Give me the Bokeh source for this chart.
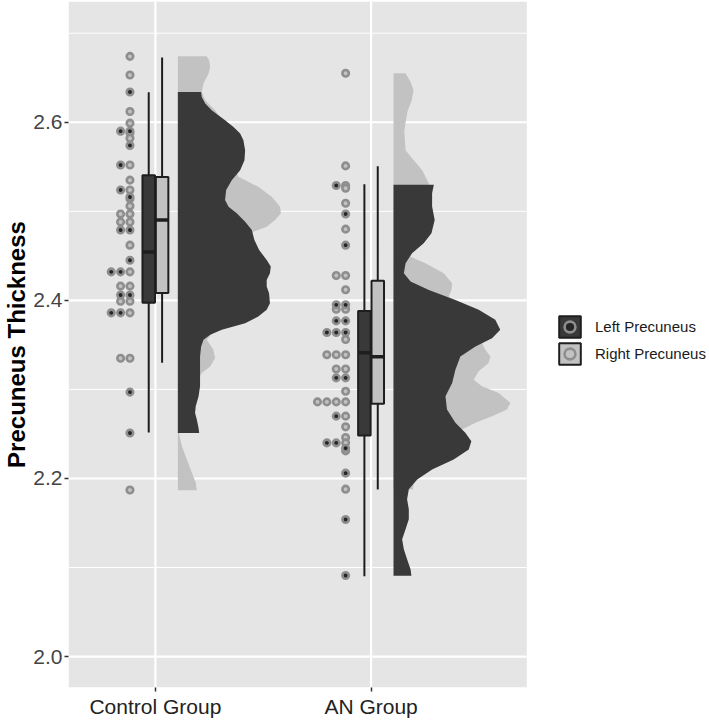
import numpy as np
from bokeh.plotting import figure
from bokeh.models import (Range1d, FixedTicker, Legend, LegendItem,
                          ColumnDataSource, PrintfTickFormatter)
from bokeh.embed import file_html
from bokeh.resources import INLINE

# ---------------- data ----------------
groups = ["Control Group", "AN Group"]
series = ["Left Precuneus", "Right Precuneus"]
group_pos = [1, 2]

y_ticks = [2.0, 2.2, 2.4, 2.6]
y_minor = [2.1, 2.3, 2.5, 2.7]

# individual observations
ctrl_left = [2.634, 2.590, 2.590, 2.574, 2.552, 2.524, 2.516, 2.479, 2.479,
             2.445, 2.432, 2.432, 2.406, 2.406, 2.386, 2.386, 2.297, 2.251]
ctrl_right = [2.674, 2.653, 2.612, 2.599, 2.588, 2.582, 2.552, 2.535, 2.524,
              2.514, 2.506, 2.497, 2.497, 2.488, 2.488, 2.462, 2.432, 2.416,
              2.416, 2.399, 2.399, 2.386, 2.335, 2.335, 2.187]
an_left = [2.529, 2.497, 2.462, 2.395, 2.395, 2.377, 2.377, 2.364, 2.364,
           2.364, 2.313, 2.313, 2.270, 2.240, 2.240, 2.234, 2.206, 2.154, 2.091]
an_right = [2.655, 2.551, 2.529, 2.526, 2.509, 2.480, 2.428, 2.428, 2.412,
            2.390, 2.390, 2.356, 2.339, 2.339, 2.339, 2.323, 2.323, 2.298,
            2.286, 2.286, 2.286, 2.286, 2.270, 2.258, 2.246, 2.240, 2.231, 2.188]

# boxplot statistics: lower whisker, q1, median, q3, upper whisker
ctrl_left_box = [2.2515, 2.3972, 2.4543, 2.5406, 2.6336]
ctrl_right_box = [2.3300, 2.4084, 2.4902, 2.5384, 2.6728]
an_left_box = [2.0902, 2.2482, 2.3412, 2.3882, 2.5305]
an_right_box = [2.1877, 2.2840, 2.3367, 2.4219, 2.5507]

# half-violin density profiles (value, width)
ctrl_right_vv = [2.674, 2.6695, 2.662, 2.6546, 2.6434, 2.634, 2.6246, 2.6134, 2.6022,
                 2.5798, 2.5573, 2.5387, 2.5275, 2.5163, 2.5051, 2.4977, 2.4902, 2.4827,
                 2.4771, 2.4603, 2.4305, 2.3931, 2.3707, 2.3557, 2.3445, 2.3352, 2.3258,
                 2.3184, 2.2997, 2.2736, 2.2493, 2.2362, 2.2213, 2.2064, 2.1952, 2.1869]
ctrl_right_vw = [0.134, 0.145, 0.150, 0.142, 0.119, 0.111, 0.127, 0.173, 0.204,
                 0.242, 0.250, 0.281, 0.373, 0.435, 0.474, 0.478, 0.451, 0.412,
                 0.350, 0.304, 0.312, 0.281, 0.188, 0.134, 0.165, 0.173, 0.150,
                 0.111, 0.065, 0.034, 0.006, 0.019, 0.042, 0.065, 0.083, 0.088]
ctrl_left_vv = [2.634, 2.6284, 2.621, 2.6134, 2.6022, 2.5947, 2.5873, 2.5798, 2.5686,
                2.5574, 2.5462, 2.535, 2.5238, 2.5126, 2.5051, 2.4977, 2.4883, 2.479,
                2.4678, 2.4566, 2.4454, 2.4379, 2.4305, 2.423, 2.4155, 2.4081, 2.3969,
                2.3894, 2.3819, 2.3744, 2.367, 2.3614, 2.3557, 2.3483, 2.3371, 2.3035,
                2.2922, 2.281, 2.2736, 2.2661, 2.2568, 2.2512]
ctrl_left_vw = [0.108, 0.111, 0.127, 0.157, 0.219, 0.258, 0.289, 0.304, 0.312,
                0.309, 0.289, 0.250, 0.224, 0.219, 0.235, 0.273, 0.312, 0.343,
                0.355, 0.377, 0.412, 0.431, 0.427, 0.412, 0.412, 0.423, 0.427,
                0.412, 0.373, 0.312, 0.204, 0.150, 0.119, 0.108, 0.103, 0.103,
                0.096, 0.083, 0.080, 0.088, 0.096, 0.099]
an_right_vv = [2.655, 2.645, 2.636, 2.625, 2.612, 2.600, 2.590, 2.5686, 2.5574,
               2.5462, 2.5313, 2.4939, 2.464, 2.4491, 2.4416, 2.4304, 2.4192, 2.4117,
               2.4043, 2.3819, 2.3595, 2.3446, 2.3371, 2.3296, 2.3203, 2.311, 2.3035,
               2.2961, 2.2849, 2.2774, 2.2699, 2.2625, 2.255, 2.2326, 2.2102, 2.1953, 2.1877]
an_right_vw = [0.056, 0.080, 0.093, 0.085, 0.065, 0.056, 0.050, 0.056, 0.094,
               0.133, 0.164, 0.133, 0.086, 0.079, 0.148, 0.233, 0.272, 0.269,
               0.256, 0.302, 0.395, 0.426, 0.449, 0.441, 0.395, 0.372, 0.410,
               0.488, 0.542, 0.526, 0.457, 0.380, 0.318, 0.241, 0.133, 0.094, 0.090]
an_left_vv = [2.5299, 2.5202, 2.5053, 2.4903, 2.4753, 2.4641, 2.453, 2.4416, 2.4304,
              2.4211, 2.4117, 2.4005, 2.3894, 2.3782, 2.367, 2.3576, 2.3483, 2.3371,
              2.3221, 2.3072, 2.2923, 2.2774, 2.2625, 2.2513, 2.2419, 2.2326, 2.2214,
              2.2102, 2.199, 2.1878, 2.1766, 2.1654, 2.1542, 2.143, 2.1318, 2.1206,
              2.1094, 2.0982, 2.0908]
an_left_vw = [0.187, 0.179, 0.179, 0.191, 0.176, 0.140, 0.086, 0.056, 0.048,
              0.079, 0.164, 0.287, 0.395, 0.472, 0.495, 0.457, 0.380, 0.310,
              0.287, 0.272, 0.241, 0.248, 0.287, 0.333, 0.361, 0.349, 0.279,
              0.179, 0.110, 0.071, 0.063, 0.071, 0.071, 0.056, 0.040, 0.048,
              0.063, 0.079, 0.083]

# ---------------- styling / layout ----------------
DARK = "#393939"
LIGHT = "#c2c2c2"
RING = "#8e8e8e"
PANEL = "#e5e5e5"
POINT_OFFSET = -0.118
POINT_STEP = 0.0435
BOX_DODGE = 0.031
BOX_HALF = 0.029
VIOLIN_NUDGE = 0.104
FONT = "Liberation Sans"

X_LO, X_HI = 0.597, 2.722          # panel extent (x)
Y_LO, Y_HI = 1.9653, 2.7356        # panel extent (y)
LEFT_BORDER = 67
PX_PER_X = 216.0                   # so the frame can also host the legend
X_VIEW_HI = X_LO + (709 - LEFT_BORDER) / PX_PER_X

p = figure(width=709, height=720,
           x_range=Range1d(X_LO, X_VIEW_HI), y_range=Range1d(Y_LO, Y_HI),
           output_backend="svg", toolbar_location=None,
           min_border_left=LEFT_BORDER, min_border_right=0,
           min_border_top=1, min_border_bottom=32,
           background_fill_color="white", border_fill_color="white",
           outline_line_color=None)
p.grid.visible = False

# panel background and grid (restricted to the panel, legend sits outside)
p.quad(left=[X_LO], right=[X_HI], bottom=[Y_LO], top=[Y_HI],
       fill_color=PANEL, line_color=None)
p.segment(x0=[X_LO] * len(y_minor), x1=[X_HI] * len(y_minor), y0=y_minor, y1=y_minor,
          line_color="white", line_width=1)
p.segment(x0=[X_LO] * len(y_ticks), x1=[X_HI] * len(y_ticks), y0=y_ticks, y1=y_ticks,
          line_color="white", line_width=2.2)
p.segment(x0=group_pos, x1=group_pos, y0=[Y_LO] * 2, y1=[Y_HI] * 2,
          line_color="white", line_width=2.2)

# axes
p.xaxis.ticker = FixedTicker(ticks=group_pos)
p.xaxis.major_label_overrides = {g: name for g, name in zip(group_pos, groups)}
p.yaxis.ticker = FixedTicker(ticks=y_ticks, minor_ticks=y_minor)
p.yaxis.formatter = PrintfTickFormatter(format="%.1f")
for ax in (p.xaxis[0], p.yaxis[0]):
    ax.axis_line_color = None
    ax.major_tick_in = 0
    ax.major_tick_out = 4
    ax.major_tick_line_color = "#333333"
    ax.major_tick_line_width = 1.5
    ax.minor_tick_line_color = None
    ax.major_label_text_font = FONT
    ax.major_label_text_font_size = "21px"
    ax.major_label_text_color = "#222222"
p.yaxis.major_label_text_color = "#444444"
p.xaxis.major_label_standoff = 3
p.yaxis.major_label_standoff = 2
p.yaxis.axis_label = "Precuneus Thickness"
p.yaxis.axis_label_text_font = FONT
p.yaxis.axis_label_text_font_size = "24px"
p.yaxis.axis_label_text_font_style = "bold"
p.yaxis.axis_label_text_color = "black"
p.yaxis.axis_label_text_line_height = 0.8
p.yaxis.axis_label_standoff = 0

# ---------------- half violins ----------------
def half_violin(center, vv, vw, color):
    x0 = center + VIOLIN_NUDGE
    xs = [x0] + [x0 + w for w in vw] + [x0]
    ys = [vv[0]] + list(vv) + [vv[-1]]
    p.patch(xs, ys, fill_color=color, line_color=None)

half_violin(group_pos[0], ctrl_right_vv, ctrl_right_vw, LIGHT)
half_violin(group_pos[0], ctrl_left_vv, ctrl_left_vw, DARK)
half_violin(group_pos[1], an_right_vv, an_right_vw, LIGHT)
half_violin(group_pos[1], an_left_vv, an_left_vw, DARK)

# ---------------- boxplots ----------------
def box_source(stats_list, dodge):
    d = dict(x=[], left=[], right=[], lo=[], q1=[], med=[], q3=[], hi=[])
    for g, st in zip(group_pos, stats_list):
        cx = g + dodge
        d["x"].append(cx)
        d["left"].append(cx - BOX_HALF)
        d["right"].append(cx + BOX_HALF)
        d["lo"].append(st[0]); d["q1"].append(st[1]); d["med"].append(st[2])
        d["q3"].append(st[3]); d["hi"].append(st[4])
    return ColumnDataSource(d)

src_l = box_source([ctrl_left_box, an_left_box], -BOX_DODGE)
src_r = box_source([ctrl_right_box, an_right_box], BOX_DODGE)
box_renderers = {}
for name, src, col in ((series[0], src_l, DARK), (series[1], src_r, LIGHT)):
    p.segment(x0="x", y0="q3", x1="x", y1="hi", source=src,
              line_color="#1e1e1e", line_width=2)
    p.segment(x0="x", y0="lo", x1="x", y1="q1", source=src,
              line_color="#1e1e1e", line_width=2)
    box_renderers[name] = p.quad(left="left", right="right", bottom="q1", top="q3",
                                 source=src, fill_color=col, line_color="#1e1e1e",
                                 line_width=2)
    p.segment(x0="left", y0="med", x1="right", y1="med", source=src,
              line_color="#1e1e1e", line_width=3.5)

# ---------------- stacked points ----------------
def stacked(center, right_vals, left_vals):
    counts = {}
    out = []
    for vals in (right_vals, left_vals):
        xs = []
        for v in vals:
            k = round(v, 3)
            c = counts.get(k, 0)
            counts[k] = c + 1
            xs.append(center + POINT_OFFSET - POINT_STEP * c)
        out.append(xs)
    return out

cr_x, cl_x = stacked(group_pos[0], ctrl_right, ctrl_left)
ar_x, al_x = stacked(group_pos[1], an_right, an_left)

pt_r = p.scatter(cr_x + ar_x, ctrl_right + an_right, size=6.5, marker="circle",
                 fill_color=LIGHT, line_color=RING, line_width=2.6)
pt_l = p.scatter(cl_x + al_x, ctrl_left + an_left, size=6.5, marker="circle",
                 fill_color="#262626", line_color=RING, line_width=2.6)

# ---------------- legend ----------------
legend = Legend(items=[
    LegendItem(label=series[0], renderers=[box_renderers[series[0]], pt_l]),
    LegendItem(label=series[1], renderers=[box_renderers[series[1]], pt_r]),
], location=(488, 320))
legend.glyph_width = 27
legend.glyph_height = 27
legend.spacing = 0
legend.padding = 0
legend.margin = 0
legend.label_standoff = 12
legend.label_text_font = FONT
legend.label_text_font_size = "15px"
legend.label_text_color = "#1a1a1a"
legend.border_line_color = None
legend.background_fill_alpha = 0
p.add_layout(legend)

open("out.html", "w").write(file_html(p, INLINE))
